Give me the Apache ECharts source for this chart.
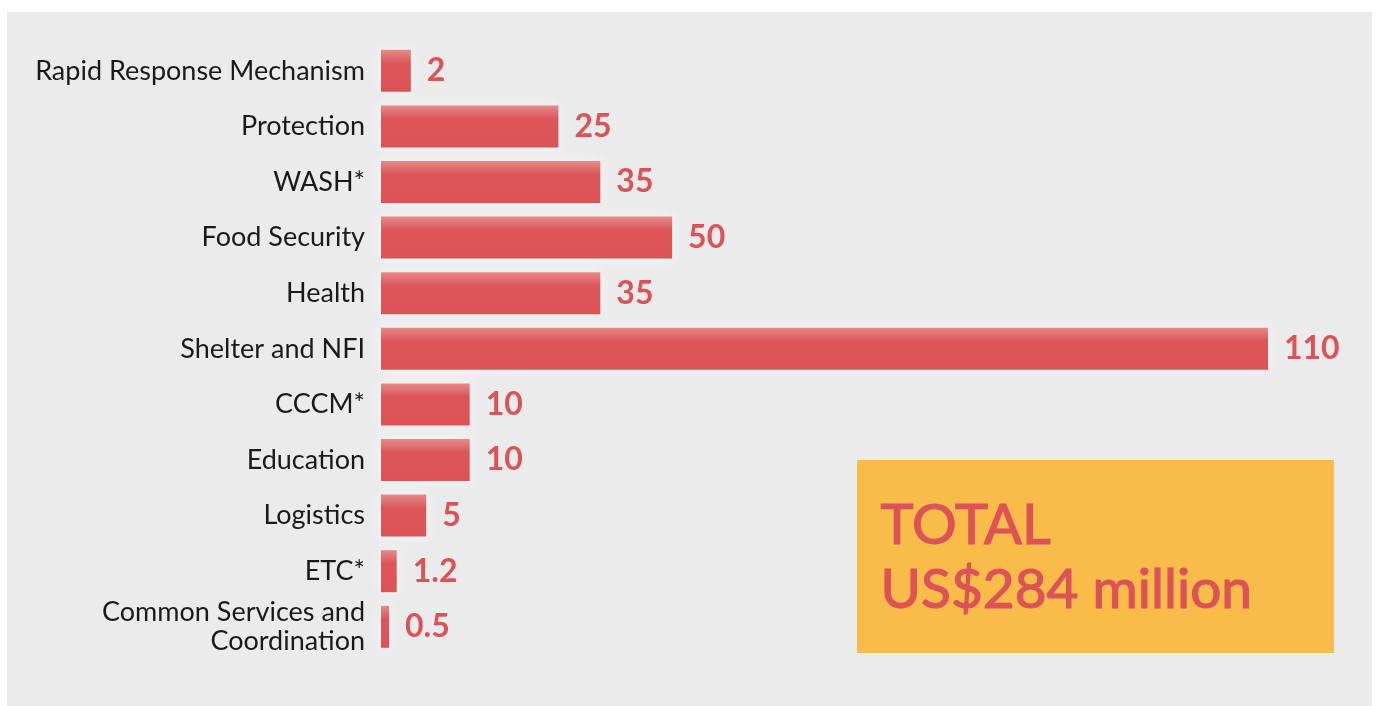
<!DOCTYPE html>
<html>
<head>
<meta charset="utf-8">
<script src="https://cdn.jsdelivr.net/npm/echarts@6/dist/echarts.min.js"></script>
<style>
  html, body { margin: 0; padding: 0; background: #ffffff; }
  #chart { width: 1377px; height: 706px; }
</style>
</head>
<body>
<div id="chart"></div>
<script>
// Categories (top to bottom)
const categories = [
  'Rapid Response Mechanism',
  'Protection',
  'WASH*',
  'Food Security',
  'Health',
  'Shelter and NFI',
  'CCCM*',
  'Education',
  'Logistics',
  'ETC*',
  'Common Services and\nCoordination'
];
// Requirement values as labelled (US$ million)
const valueLabels = ['2', '25', '35', '50', '35', '110', '10', '10', '5', '1.2', '0.5'];
// Bar lengths as drawn in the picture (same units, Shelter = 110)
const barLengths = [3.7, 22.0, 27.2, 36.1, 27.2, 110, 11.0, 11.0, 5.6, 1.95, 1.0];
const totalLines = ['TOTAL', 'US$284 million'];

const chart = echarts.init(document.getElementById('chart'));
const red = '#db5356';

chart.setOption({
  backgroundColor: '#ffffff',
  animation: false,
  graphic: [
    { type: 'rect', left: 7, top: 12, z: -100, shape: { width: 1365, height: 694 }, style: { fill: '#ebebeb' } },
    { type: 'rect', left: 857, top: 460, z: 10, shape: { width: 477, height: 193 }, style: { fill: '#f9bb4a' } },
    { type: 'text', left: 880, top: 497, z: 11, style: { text: totalLines[0], fill: red, stroke: red, lineWidth: 1.2, font: '56px Lato' } },
    { type: 'text', left: 880, top: 562, z: 11, style: { text: totalLines[1], fill: red, stroke: red, lineWidth: 1.2, font: '55px Lato' } }
  ],
  grid: { left: 381, top: 43, width: 887, height: 611.6, containLabel: false },
  xAxis: {
    type: 'value', min: 0, max: 110, show: false
  },
  yAxis: {
    type: 'category',
    inverse: true,
    data: categories,
    axisLine: { show: false },
    axisTick: { show: false },
    splitLine: { show: false },
    axisLabel: {
      margin: 16,
      color: '#1a1a1a',
      fontFamily: 'Lato',
      fontSize: 27,
      lineHeight: 29
    }
  },
  series: [{
    type: 'bar',
    data: barLengths,
    barWidth: 42,
    itemStyle: {
      color: new echarts.graphic.LinearGradient(0, 0, 0, 1, [
        { offset: 0, color: '#e68a8a' },
        { offset: 0.32, color: '#dc5659' },
        { offset: 1, color: '#db5356' }
      ]),
      shadowColor: 'rgba(255,255,255,0.7)',
      shadowBlur: 10
    },
    label: {
      show: true,
      position: 'right',
      distance: 16,
      color: red,
      fontFamily: 'Lato',
      fontWeight: 'bold',
      fontSize: 32,
      formatter: p => valueLabels[p.dataIndex]
    }
  }]
});
</script>
</body>
</html>
